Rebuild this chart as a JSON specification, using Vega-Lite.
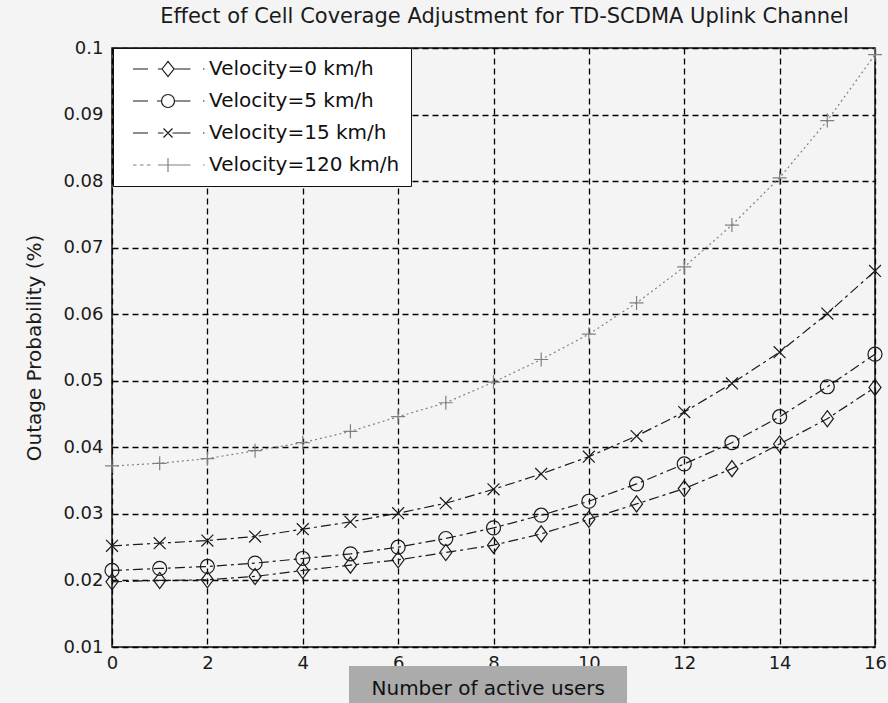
{
  "$schema": "https://vega.github.io/schema/vega-lite/v6.json",
  "width": 763,
  "height": 599,
  "autosize": {"type": "none"},
  "padding": {"left": 112, "top": 48, "right": 13, "bottom": 56},
  "background": "#f4f4f4",
  "title": {"text": "Effect of Cell Coverage Adjustment for TD-SCDMA Uplink Channel", "font": "DejaVu Sans", "fontSize": 21, "fontWeight": "normal", "color": "#1a1a1a", "offset": 12, "dx": 11},
  "config": {"view": {"stroke": "#111", "strokeWidth": 1.5, "fill": "white"}, "font": "DejaVu Sans"},
  "data": {"values": [
    {"v": "Velocity=0 km/h", "n": 0, "p": 0.0198}, {"v": "Velocity=0 km/h", "n": 1, "p": 0.0200}, {"v": "Velocity=0 km/h", "n": 2, "p": 0.0201}, {"v": "Velocity=0 km/h", "n": 3, "p": 0.0206}, {"v": "Velocity=0 km/h", "n": 4, "p": 0.0215}, {"v": "Velocity=0 km/h", "n": 5, "p": 0.0223}, {"v": "Velocity=0 km/h", "n": 6, "p": 0.0231}, {"v": "Velocity=0 km/h", "n": 7, "p": 0.0242}, {"v": "Velocity=0 km/h", "n": 8, "p": 0.0253}, {"v": "Velocity=0 km/h", "n": 9, "p": 0.0270}, {"v": "Velocity=0 km/h", "n": 10, "p": 0.0292}, {"v": "Velocity=0 km/h", "n": 11, "p": 0.0315}, {"v": "Velocity=0 km/h", "n": 12, "p": 0.0338}, {"v": "Velocity=0 km/h", "n": 13, "p": 0.0368}, {"v": "Velocity=0 km/h", "n": 14, "p": 0.0405}, {"v": "Velocity=0 km/h", "n": 15, "p": 0.0443}, {"v": "Velocity=0 km/h", "n": 16, "p": 0.0490},
    {"v": "Velocity=5 km/h", "n": 0, "p": 0.0215}, {"v": "Velocity=5 km/h", "n": 1, "p": 0.0218}, {"v": "Velocity=5 km/h", "n": 2, "p": 0.0221}, {"v": "Velocity=5 km/h", "n": 3, "p": 0.0226}, {"v": "Velocity=5 km/h", "n": 4, "p": 0.0233}, {"v": "Velocity=5 km/h", "n": 5, "p": 0.0240}, {"v": "Velocity=5 km/h", "n": 6, "p": 0.0250}, {"v": "Velocity=5 km/h", "n": 7, "p": 0.0263}, {"v": "Velocity=5 km/h", "n": 8, "p": 0.0279}, {"v": "Velocity=5 km/h", "n": 9, "p": 0.0298}, {"v": "Velocity=5 km/h", "n": 10, "p": 0.0319}, {"v": "Velocity=5 km/h", "n": 11, "p": 0.0345}, {"v": "Velocity=5 km/h", "n": 12, "p": 0.0375}, {"v": "Velocity=5 km/h", "n": 13, "p": 0.0407}, {"v": "Velocity=5 km/h", "n": 14, "p": 0.0446}, {"v": "Velocity=5 km/h", "n": 15, "p": 0.0491}, {"v": "Velocity=5 km/h", "n": 16, "p": 0.0540},
    {"v": "Velocity=15 km/h", "n": 0, "p": 0.0252}, {"v": "Velocity=15 km/h", "n": 1, "p": 0.0256}, {"v": "Velocity=15 km/h", "n": 2, "p": 0.0260}, {"v": "Velocity=15 km/h", "n": 3, "p": 0.0266}, {"v": "Velocity=15 km/h", "n": 4, "p": 0.0277}, {"v": "Velocity=15 km/h", "n": 5, "p": 0.0288}, {"v": "Velocity=15 km/h", "n": 6, "p": 0.0301}, {"v": "Velocity=15 km/h", "n": 7, "p": 0.0316}, {"v": "Velocity=15 km/h", "n": 8, "p": 0.0337}, {"v": "Velocity=15 km/h", "n": 9, "p": 0.0360}, {"v": "Velocity=15 km/h", "n": 10, "p": 0.0386}, {"v": "Velocity=15 km/h", "n": 11, "p": 0.0417}, {"v": "Velocity=15 km/h", "n": 12, "p": 0.0453}, {"v": "Velocity=15 km/h", "n": 13, "p": 0.0496}, {"v": "Velocity=15 km/h", "n": 14, "p": 0.0543}, {"v": "Velocity=15 km/h", "n": 15, "p": 0.0601}, {"v": "Velocity=15 km/h", "n": 16, "p": 0.0665},
    {"v": "Velocity=120 km/h", "n": 0, "p": 0.0372}, {"v": "Velocity=120 km/h", "n": 1, "p": 0.0376}, {"v": "Velocity=120 km/h", "n": 2, "p": 0.0383}, {"v": "Velocity=120 km/h", "n": 3, "p": 0.0395}, {"v": "Velocity=120 km/h", "n": 4, "p": 0.0407}, {"v": "Velocity=120 km/h", "n": 5, "p": 0.0424}, {"v": "Velocity=120 km/h", "n": 6, "p": 0.0446}, {"v": "Velocity=120 km/h", "n": 7, "p": 0.0467}, {"v": "Velocity=120 km/h", "n": 8, "p": 0.0498}, {"v": "Velocity=120 km/h", "n": 9, "p": 0.0532}, {"v": "Velocity=120 km/h", "n": 10, "p": 0.0570}, {"v": "Velocity=120 km/h", "n": 11, "p": 0.0617}, {"v": "Velocity=120 km/h", "n": 12, "p": 0.0671}, {"v": "Velocity=120 km/h", "n": 13, "p": 0.0734}, {"v": "Velocity=120 km/h", "n": 14, "p": 0.0805}, {"v": "Velocity=120 km/h", "n": 15, "p": 0.0891}, {"v": "Velocity=120 km/h", "n": 16, "p": 0.0990}
  ]},
  "resolve": {"scale": {"shape": "independent", "color": "independent", "strokeDash": "independent"}},
  "layer": [
    {
      "mark": {"type": "line", "strokeWidth": 1.2},
      "encoding": {
        "x": {"field": "n", "type": "quantitative", "scale": {"domain": [0, 16], "nice": false},
              "axis": {"values": [0, 2, 4, 6, 8, 10, 12, 14, 16], "title": null, "grid": true, "gridDash": [6, 4], "gridColor": "#000", "gridWidth": 1.3, "domain": false, "ticks": false, "labelFontSize": 18, "labelColor": "#1a1a1a", "labelPadding": 7, "labelFlush": false}},
        "y": {"field": "p", "type": "quantitative", "scale": {"domain": [0.01, 0.1], "nice": false, "zero": false},
              "axis": {"values": [0.01, 0.02, 0.03, 0.04, 0.05, 0.06, 0.07, 0.08, 0.09, 0.1], "format": ".2~f", "title": "Outage Probability (%)", "titleFontSize": 20, "titleFontWeight": "normal", "titleColor": "#1a1a1a", "titlePadding": 18, "grid": true, "gridDash": [6, 4], "gridColor": "#000", "gridWidth": 1.3, "domain": false, "ticks": false, "labelFontSize": 18, "labelColor": "#1a1a1a", "labelPadding": 9, "labelFlush": false}},
        "color": {"field": "v", "type": "nominal", "scale": {"domain": ["Velocity=0 km/h", "Velocity=5 km/h", "Velocity=15 km/h", "Velocity=120 km/h"], "range": ["#1a1a1a", "#1a1a1a", "#1a1a1a", "#808080"]}, "legend": null},
        "strokeDash": {"field": "v", "type": "nominal", "scale": {"domain": ["Velocity=0 km/h", "Velocity=5 km/h", "Velocity=15 km/h", "Velocity=120 km/h"], "range": [[10, 4, 3, 4], [10, 4, 3, 4], [10, 4, 3, 4], [2, 3]]}, "legend": null}
      }
    },
    {
      "data": {"values": [{"label": "Number of active users"}]},
      "mark": {"type": "rect", "fill": "#ababab", "clip": false},
      "encoding": {
        "x": {"datum": 4.97, "type": "quantitative"},
        "x2": {"datum": 10.8},
        "y": {"datum": 0.00715, "type": "quantitative"},
        "y2": {"datum": 0.0016}
      }
    },
    {
      "data": {"values": [{"label": "Number of active users"}]},
      "mark": {"type": "text", "fontSize": 20, "font": "DejaVu Sans", "color": "#111", "clip": false, "baseline": "middle"},
      "encoding": {
        "x": {"datum": 7.89, "type": "quantitative"},
        "y": {"datum": 0.0037, "type": "quantitative"},
        "text": {"field": "label"}
      }
    },
    {
      "mark": {"type": "point", "filled": false, "strokeWidth": 1.2, "size": 196, "opacity": 1},
      "encoding": {
        "x": {"field": "n", "type": "quantitative"},
        "y": {"field": "p", "type": "quantitative"},
        "shape": {"field": "v", "type": "nominal", "scale": {"domain": ["Velocity=0 km/h", "Velocity=5 km/h", "Velocity=15 km/h", "Velocity=120 km/h"], "range": ["M0,-1.15L0.86,0L0,1.15L-0.86,0Z", "circle", "M-0.85,-0.85L0.85,0.85M-0.85,0.85L0.85,-0.85", "M0,-1L0,1M-1,0L1,0"]}, "legend": null},
        "color": {"field": "v", "type": "nominal", "scale": {"domain": ["Velocity=0 km/h", "Velocity=5 km/h", "Velocity=15 km/h", "Velocity=120 km/h"], "range": ["#1a1a1a", "#1a1a1a", "#1a1a1a", "#808080"]}, "legend": null}
      }
    },
    {
      "transform": [{"filter": "false"}],
      "mark": {"type": "point", "filled": false, "strokeWidth": 1.2, "opacity": 1},
      "encoding": {
        "shape": {"field": "v", "type": "nominal", "scale": {"domain": ["Velocity=0 km/h", "Velocity=5 km/h", "Velocity=15 km/h", "Velocity=120 km/h"], "range": [
          "M-7,0H-4M-2,0H-1.2M-1.2,0L0,-1.5L1.2,0L0,1.5ZM1.2,0H4.5M7,0H7.3",
          "M-7,0H-4M-2.2,0H-1.3M1.3,0A1.3,1.3 0 1,1 -1.3,0A1.3,1.3 0 1,1 1.3,0M1.3,0H4.5M7,0H7.3",
          "M-7,0H-4M-2,0H-0.9M-0.9,-0.9L0.9,0.9M-0.9,0.9L0.9,-0.9M0.9,0H4.5M7,0H7.3",
          "M-7,0H-6.3M-5.6,0H-4.9M-4.2,0H-3.5M-2,0H4.5M0,-1.4V1.4M7,0H7.3"]},
          "legend": {"title": null, "orient": "none", "legendX": 1, "legendY": 0, "strokeColor": "#111", "fillColor": "white", "padding": 11, "labelFontSize": 20, "labelFont": "DejaVu Sans", "labelColor": "#111", "labelLimit": 400, "symbolSize": 100, "symbolStrokeWidth": 1.2, "symbolOpacity": 1, "symbolOffset": 34, "labelOffset": 31, "rowPadding": 12}},
        "color": {"field": "v", "type": "nominal", "scale": {"domain": ["Velocity=0 km/h", "Velocity=5 km/h", "Velocity=15 km/h", "Velocity=120 km/h"], "range": ["#1a1a1a", "#1a1a1a", "#1a1a1a", "#808080"]},
          "legend": {"title": null, "orient": "none", "legendX": 1, "legendY": 0, "strokeColor": "#111", "fillColor": "white", "padding": 11, "labelFontSize": 20, "labelFont": "DejaVu Sans", "labelColor": "#111", "labelLimit": 400, "symbolSize": 100, "symbolStrokeWidth": 1.2, "symbolOpacity": 1, "symbolOffset": 34, "labelOffset": 31, "rowPadding": 12}}
      }
    }
  ]
}
